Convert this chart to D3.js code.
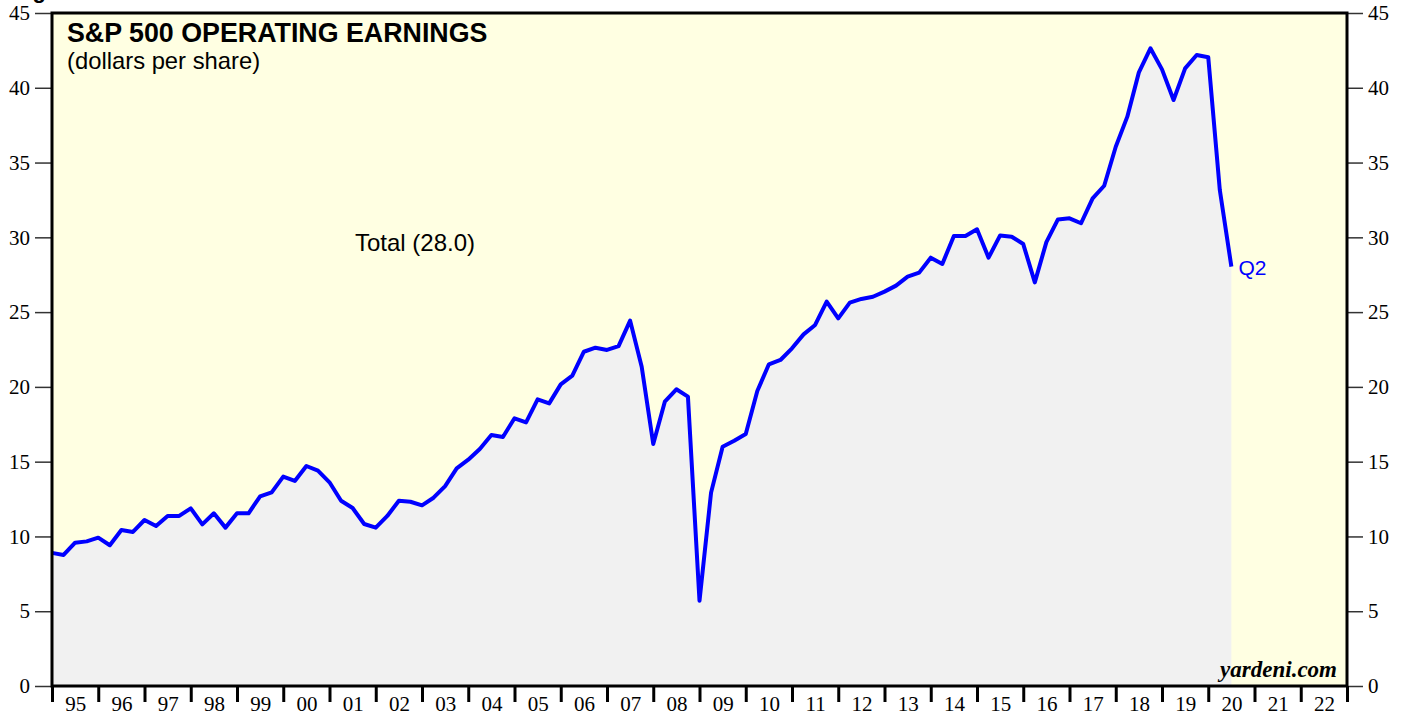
<!DOCTYPE html>
<html>
<head>
<meta charset="utf-8">
<script src="https://cdn.jsdelivr.net/npm/d3@7"></script>
<style>
  body { margin: 0; background: #fff; }
  .axis text { font-family: "Liberation Serif", "Times New Roman", serif; font-size: 21px; fill: #000; }
</style>
</head>
<body>
<div id="chart-area"></div>
<script>
// quarterly S&P 500 operating earnings, dollars per share (quarter end)
var quarters = [
  "1994Q4",
  "1995Q1","1995Q2","1995Q3","1995Q4","1996Q1","1996Q2","1996Q3","1996Q4",
  "1997Q1","1997Q2","1997Q3","1997Q4","1998Q1","1998Q2","1998Q3","1998Q4",
  "1999Q1","1999Q2","1999Q3","1999Q4","2000Q1","2000Q2","2000Q3","2000Q4",
  "2001Q1","2001Q2","2001Q3","2001Q4","2002Q1","2002Q2","2002Q3","2002Q4",
  "2003Q1","2003Q2","2003Q3","2003Q4","2004Q1","2004Q2","2004Q3","2004Q4",
  "2005Q1","2005Q2","2005Q3","2005Q4","2006Q1","2006Q2","2006Q3","2006Q4",
  "2007Q1","2007Q2","2007Q3","2007Q4","2008Q1","2008Q2","2008Q3","2008Q4",
  "2009Q1","2009Q2","2009Q3","2009Q4","2010Q1","2010Q2","2010Q3","2010Q4",
  "2011Q1","2011Q2","2011Q3","2011Q4","2012Q1","2012Q2","2012Q3","2012Q4",
  "2013Q1","2013Q2","2013Q3","2013Q4","2014Q1","2014Q2","2014Q3","2014Q4",
  "2015Q1","2015Q2","2015Q3","2015Q4","2016Q1","2016Q2","2016Q3","2016Q4",
  "2017Q1","2017Q2","2017Q3","2017Q4","2018Q1","2018Q2","2018Q3","2018Q4",
  "2019Q1","2019Q2","2019Q3","2019Q4","2020Q1","2020Q2"
];
var earnings = [
  8.90,
  8.76, 9.58, 9.67, 9.92, 9.41, 10.43, 10.30, 11.10,
  10.70, 11.37, 11.37, 11.88, 10.81, 11.55, 10.59, 11.55,
  11.55, 12.68, 12.95, 14.00, 13.71, 14.71, 14.40, 13.62,
  12.39, 11.90, 10.83, 10.59, 11.37, 12.39, 12.32, 12.08,
  12.59, 13.37, 14.55, 15.13, 15.85, 16.78, 16.65, 17.90,
  17.63, 19.17, 18.90, 20.17, 20.75, 22.35, 22.62, 22.47,
  22.73, 24.43, 21.35, 16.18, 19.01, 19.84, 19.35, 5.70,
  12.93, 16.00, 16.40, 16.85, 19.72, 21.51, 21.80, 22.58,
  23.51, 24.14, 25.70, 24.58, 25.63, 25.88, 26.03, 26.37,
  26.77, 27.37, 27.64, 28.64, 28.22, 30.09, 30.09, 30.54,
  28.64, 30.13, 30.04, 29.55, 26.99, 29.68, 31.20, 31.27,
  30.94, 32.61, 33.45, 36.06, 38.07, 41.03, 42.64, 41.23,
  39.18, 41.30, 42.19, 42.04, 33.16, 28.04
];
var yTicks = [0, 5, 10, 15, 20, 25, 30, 35, 40, 45];
var yearLabels = ["95","96","97","98","99","00","01","02","03","04","05","06","07","08",
                  "09","10","11","12","13","14","15","16","17","18","19","20","21","22"];
var firstYear = 1995, lastYear = 2023;

var W = 1407, H = 717;
var margin = { left: 52, right: 60, top: 13, bottom: 31 },
    width = W - margin.left - margin.right,
    height = H - margin.top - margin.bottom;

var svg = d3.select("#chart-area")
    .append("svg")
    .attr("width", W)
    .attr("height", H);

var g = svg.append("g")
    .attr("transform", "translate(" + margin.left + "," + margin.top + ")");

var data = quarters.map(function(q, i) {
    return { t: +q.slice(0, 4) + (+q.slice(5)) / 4, v: earnings[i] };
});

// Scales
var x = d3.scaleLinear().domain([firstYear, lastYear]).range([0, width]);
var y = d3.scaleLinear().domain([0, 45]).range([height, 0]);

// background
g.append("rect")
    .attr("width", width)
    .attr("height", height)
    .attr("fill", "#ffffe2");

// area under the line
var area = d3.area()
    .x(function(d){ return x(d.t); })
    .y0(y(0))
    .y1(function(d){ return y(d.v); });

g.append("path")
    .attr("d", area(data))
    .attr("fill", "#f1f1f1");

// Y axes (left & right)
g.append("g")
    .attr("class", "axis")
    .call(d3.axisLeft(y).tickValues(yTicks).tickSize(17).tickPadding(5));
g.append("g")
    .attr("class", "axis")
    .attr("transform", "translate(" + width + ",0)")
    .call(d3.axisRight(y).tickValues(yTicks).tickSize(16).tickPadding(5));
g.selectAll(".axis .domain").remove();
g.selectAll(".axis .tick line").attr("stroke", "#333").attr("stroke-width", 1.5);

// X axis: year boundary ticks
var xTicks = g.append("g")
    .attr("class", "axis")
    .attr("transform", "translate(0," + height + ")")
    .call(d3.axisBottom(x).tickValues(d3.range(firstYear, lastYear + 1)).tickSize(16).tickFormat(""));
xTicks.select(".domain").remove();
xTicks.selectAll(".tick line").attr("stroke", "#000").attr("stroke-width", 3);

// X axis labels centred in each year
var xLab = g.append("g")
    .attr("class", "axis")
    .attr("transform", "translate(0," + height + ")")
    .call(d3.axisBottom(x)
        .tickValues(d3.range(firstYear, lastYear).map(function(v){ return v + 0.5; }))
        .tickSize(0).tickPadding(10)
        .tickFormat(function(d, i){ return yearLabels[i]; }));
xLab.select(".domain").remove();

// line
var line = d3.line()
    .x(function(d){ return x(d.t); })
    .y(function(d){ return y(d.v); });

g.append("path")
    .attr("d", line(data))
    .attr("fill", "none")
    .attr("stroke", "#0000ff")
    .attr("stroke-width", 4)
    .attr("stroke-linejoin", "round");

// frame
g.append("rect")
    .attr("width", width)
    .attr("height", height)
    .attr("fill", "none")
    .attr("stroke", "#000")
    .attr("stroke-width", 3);

// texts
var sans = "'Liberation Sans', Arial, sans-serif";
svg.append("text")
    .attr("x", 13).attr("y", -2)
    .attr("font-family", sans).attr("font-weight", "bold").attr("font-size", "22px")
    .text("Figure");

g.append("text")
    .attr("x", 15).attr("y", 29)
    .attr("font-family", sans).attr("font-weight", "bold").attr("font-size", "26.8px")
    .text("S&P 500 OPERATING EARNINGS");

g.append("text")
    .attr("x", 15).attr("y", 56)
    .attr("font-family", sans).attr("font-size", "23.8px")
    .text("(dollars per share)");

var last = data[data.length - 1];
g.append("text")
    .attr("x", x(2001.55)).attr("y", y(30) + 14)
    .attr("font-family", sans).attr("font-size", "24px")
    .text("Total (" + last.v.toFixed(1) + ")");

g.append("text")
    .attr("x", x(last.t) + 7).attr("y", y(last.v) + 8)
    .attr("font-family", sans).attr("font-size", "21px")
    .attr("fill", "#0000ff")
    .text("Q2");

g.append("text")
    .attr("x", width - 10).attr("y", height - 9)
    .attr("text-anchor", "end")
    .attr("font-family", "'Liberation Serif', 'Times New Roman', serif")
    .attr("font-weight", "bold").attr("font-style", "italic").attr("font-size", "23px")
    .text("yardeni.com");
</script>
</body>
</html>
